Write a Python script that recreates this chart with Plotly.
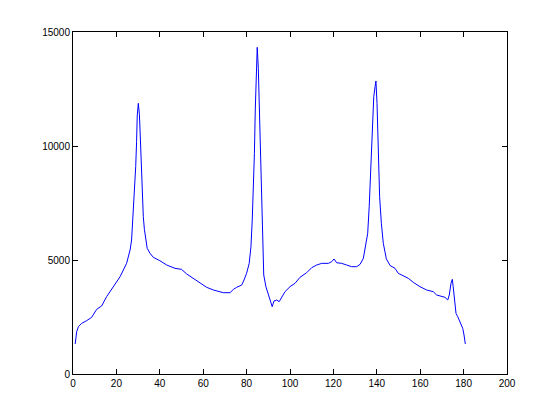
import plotly.graph_objects as go

x_vals = [1, 1.7, 2.5, 4, 6.3, 8.6, 10.9, 13.2, 15.5, 18.6, 21.7, 24.7, 26.3, 27, 27.8, 28.4, 28.9, 29.3, 29.6, 30.1,
          30.6, 31, 31.5, 31.9, 32.4, 32.9, 33.6, 34.2, 35.5, 37, 40, 43.2, 47, 50, 52.4, 55.4, 58.5, 61.6, 64.7, 69.3,
          72.4, 73.9, 75.4, 77.7, 78.8, 80, 81.2, 82, 82.6, 83.1, 83.6, 84, 84.5, 84.9, 85.4, 85.9, 86.3, 86.8, 87.2, 87.9,
          88.9, 90.2, 91.1, 91.8, 92.6, 93.9, 95, 96.2, 97.7, 100, 102.3, 104.6, 107.7, 110, 112.3, 114.6, 117.7, 119.2,
          120.3, 121.5, 123.8, 126.1, 128.4, 130.7, 132.3, 133.8, 134.9, 135.8, 136.5, 137.3, 137.9, 138.6, 139.2, 139.6,
          140.1, 140.6, 141.3, 142.1, 143, 144.4, 146.1, 148.4, 149.9, 151.5, 154.5, 156.8, 159.9, 163, 166, 167.6, 169.9,
          171.4, 172.7, 173.4, 174.2, 174.8, 175.2, 175.7, 176.5, 177.3, 178.3, 179.6, 180.2, 180.8]
y_vals = [1316, 1857, 2075, 2222, 2339, 2485, 2836, 2983, 3392, 3830, 4268, 4853, 5439, 5877, 7048, 7996, 9093, 10190, 11316, 11872,
          11390, 10440, 9240, 7777, 6900, 6346, 5950, 5513, 5294, 5118, 4970, 4780, 4634, 4590, 4386, 4197, 3978, 3802, 3684, 3566,
          3566, 3713, 3800, 3900, 4123, 4415, 4853, 5585, 6754, 7924, 9679, 11579, 13407, 14328, 13407, 11600, 9679, 7338, 5804, 4342,
          3830, 3392, 3100, 2953, 3202, 3245, 3172, 3392, 3611, 3830, 3977, 4240, 4445, 4664, 4780, 4853, 4853, 4927,
          5044, 4880, 4853, 4780, 4707, 4707, 4810, 5073, 5585, 6170, 7338, 8947, 10702, 12163, 12602, 12851,
          11872, 9825, 7777, 6608, 5731, 5050, 4760, 4634, 4415, 4342, 4197, 4021, 3830, 3684, 3611, 3465, 3392,
          3363, 3245, 3465, 3977, 4152, 3830, 3245, 2661, 2515, 2295, 2003, 1710, 1316]

x_ticks = [0, 20, 40, 60, 80, 100, 120, 140, 160, 180, 200]
y_ticks = [0, 5000, 10000, 15000]

fig = go.Figure()
fig.add_trace(go.Scatter(x=x_vals, y=y_vals, mode="lines",
                         line=dict(color="#0000ff", width=1), showlegend=False))

axis_common = dict(showline=True, linecolor="black", linewidth=1, mirror="ticks",
                   ticks="inside", ticklen=5, tickcolor="black", showgrid=False, zeroline=False,
                   tickfont=dict(family="Liberation Sans, Arial, sans-serif", size=10, color="black"))
fig.update_xaxes(range=[0, 200], tickvals=x_ticks, ticktext=[str(v) for v in x_ticks], **axis_common)
fig.update_yaxes(range=[0, 15000], tickvals=y_ticks, ticktext=[str(v) for v in y_ticks], **axis_common)

fig.update_layout(width=560, height=420, margin=dict(l=65, r=61, t=24, b=54),
                  paper_bgcolor="white", plot_bgcolor="white")

fig.write_html("out.html")
